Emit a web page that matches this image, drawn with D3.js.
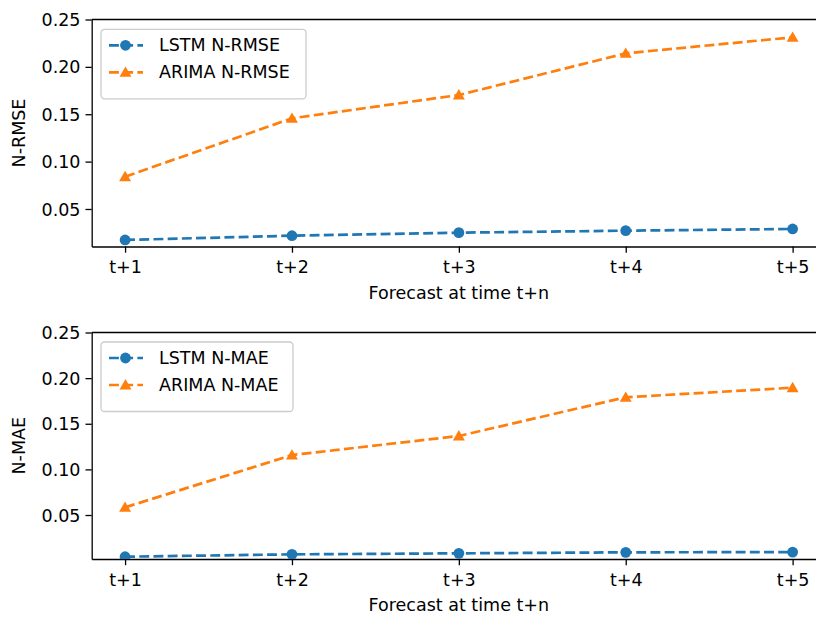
<!DOCTYPE html>
<html>
<head>
<meta charset="utf-8">
<script src="https://cdn.jsdelivr.net/npm/d3@7"></script>
<style>
  body { margin: 0; background: #fff; }
  svg { display: block; font-family: "DejaVu Sans", sans-serif; }
</style>
</head>
<body>
<script>
// datos
var categorias = ["t+1", "t+2", "t+3", "t+4", "t+5"];
var lstmRmse = [0.0173, 0.0218, 0.0250, 0.0271, 0.0289];
var arimaRmse = [0.0841, 0.1457, 0.1703, 0.2143, 0.2312];
var lstmMae = [0.0043, 0.0069, 0.0080, 0.0091, 0.0094];
var arimaMae = [0.0584, 0.1157, 0.1366, 0.1790, 0.1895];
var ticksY = [0.05, 0.10, 0.15, 0.20, 0.25];

var azul = "#1f77b4", naranja = "#ff7f0e";
var fs = 17.5;

var svg = d3.select("body").append("svg")
    .attr("width", 816).attr("height", 617);

// x compartido: margen de 0.2 a cada lado como matplotlib
var x = d3.scaleLinear().domain([-0.2, 4.2]).range([91.7, 826]);

function panel(top, bottom, yDom, serie1, serie2, nombre1, nombre2, ylabel, leg) {
    var y = d3.scaleLinear().domain(yDom).range([bottom, top]);
    var g = svg.append("g");

    var clipId = "clip" + Math.round(top);
    g.append("clipPath").attr("id", clipId).append("rect")
        .attr("x", x.range()[0]).attr("y", top)
        .attr("width", x.range()[1] - x.range()[0]).attr("height", bottom - top);

    // ejes
    var ax = g.append("g").attr("transform", "translate(0," + bottom + ")")
        .call(d3.axisBottom(x).tickValues(d3.range(categorias.length))
            .tickFormat(function(i) { return categorias[i]; })
            .tickSizeInner(6.2).tickSizeOuter(0).tickPadding(5));
    var ay = g.append("g").attr("transform", "translate(" + x.range()[0] + ",0)")
        .call(d3.axisLeft(y).tickValues(ticksY).tickFormat(d3.format(".2f"))
            .tickSizeInner(6.2).tickSizeOuter(0).tickPadding(5));
    [ax, ay].forEach(function(a) {
        a.selectAll("text").attr("font-size", fs).attr("fill", "#000")
            .attr("font-family", "DejaVu Sans");
        a.selectAll("line").attr("stroke", "#000").attr("stroke-width", 1.3);
        a.select(".domain").attr("stroke", "#000").attr("stroke-width", 1.3);
    });
    ax.selectAll("text").attr("dy", "0.9em");
    ay.selectAll("text").attr("dy", "0.35em");

    // borde superior
    g.append("line").attr("x1", x.range()[0]).attr("x2", x.range()[1])
        .attr("y1", top).attr("y2", top)
        .attr("stroke", "#000").attr("stroke-width", 1.3);

    // etiquetas de ejes
    g.append("text").attr("x", (x.range()[0] + x.range()[1]) / 2).attr("y", bottom + 52)
        .attr("text-anchor", "middle").attr("font-size", fs).text("Forecast at time t+n");
    g.append("text")
        .attr("transform", "translate(25," + ((top + bottom) / 2) + ") rotate(-90)")
        .attr("text-anchor", "middle").attr("font-size", fs).text(ylabel);

    var linea = d3.line().x(function(d, i) { return x(i); }).y(function(d) { return y(d); });
    var tri = d3.symbol().type(d3.symbolTriangle).size(62);

    var plot = g.append("g").attr("clip-path", "url(#" + clipId + ")");
    [[serie1, azul], [serie2, naranja]].forEach(function(s) {
        plot.append("path").datum(s[0]).attr("d", linea)
            .attr("fill", "none").attr("stroke", s[1]).attr("stroke-width", 2.7)
            .attr("stroke-dasharray", "9.9,4.3");
    });
    plot.selectAll(".pt1").data(serie1).enter().append("circle")
        .attr("cx", function(d, i) { return x(i); }).attr("cy", function(d) { return y(d); })
        .attr("r", 5.4).attr("fill", azul);
    plot.selectAll(".pt2").data(serie2).enter().append("path")
        .attr("d", tri)
        .attr("transform", function(d, i) { return "translate(" + x(i) + "," + (y(d) + 1) + ")"; })
        .attr("fill", naranja);

    // leyenda
    var lg = g.append("g");
    lg.append("rect").attr("x", leg.x).attr("y", leg.y).attr("width", leg.w).attr("height", 69.5)
        .attr("rx", 3.5).attr("fill", "#fff").attr("fill-opacity", 0.8)
        .attr("stroke", "#cccccc").attr("stroke-width", 1.3);
    [[nombre1, azul, "c"], [nombre2, naranja, "t"]].forEach(function(e, k) {
        var cy = leg.y + 16 + k * 27;
        lg.append("line").attr("x1", 108).attr("x2", 143).attr("y1", cy).attr("y2", cy)
            .attr("stroke", e[1]).attr("stroke-width", 2.7).attr("stroke-dasharray", "9.9,4.3")
            .attr("stroke-dashoffset", -1);
        if (e[2] == "c") {
            lg.append("circle").attr("cx", 125.5).attr("cy", cy).attr("r", 5.4).attr("fill", e[1]);
        } else {
            lg.append("path").attr("d", tri).attr("transform", "translate(125.5," + (cy + 1) + ")")
                .attr("fill", e[1]);
        }
        lg.append("text").attr("x", 159).attr("y", cy).attr("dy", "0.35em")
            .attr("font-size", fs).text(e[0]);
    });
}

panel(19.5, 246.5, [0.0104, 0.25], lstmRmse, arimaRmse, "LSTM N-RMSE", "ARIMA N-RMSE", "N-RMSE",
    { x: 101, y: 29.3, w: 205 });
panel(332.5, 559, [0.0018, 0.25], lstmMae, arimaMae, "LSTM N-MAE", "ARIMA N-MAE", "N-MAE",
    { x: 101, y: 342, w: 192 });
</script>
</body>
</html>
